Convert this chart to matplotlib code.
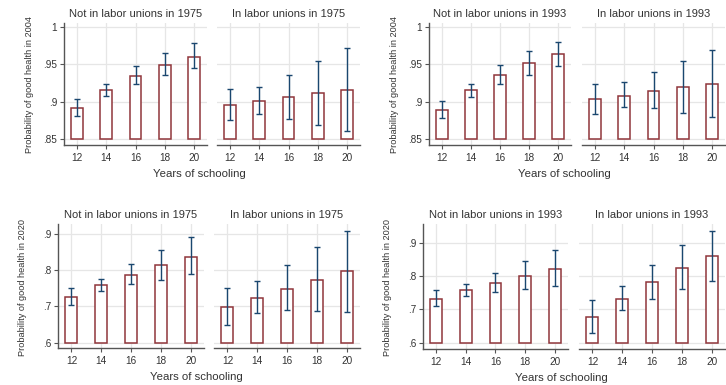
import matplotlib
matplotlib.use("Agg")
import matplotlib.pyplot as plt

# --- Data ---
years = [12, 14, 16, 18, 20]

# Outcome: good health in 2004, grouped by union status in 1975
est_04_75_non = [0.891, 0.915, 0.934, 0.949, 0.960]
lo_04_75_non = [0.881, 0.908, 0.923, 0.935, 0.945]
hi_04_75_non = [0.903, 0.924, 0.947, 0.965, 0.978]
est_04_75_uni = [0.895, 0.901, 0.906, 0.911, 0.916]
lo_04_75_uni = [0.876, 0.883, 0.877, 0.869, 0.861]
hi_04_75_uni = [0.917, 0.920, 0.936, 0.954, 0.972]

# Outcome: good health in 2004, grouped by union status in 1993
est_04_93_non = [0.889, 0.915, 0.935, 0.951, 0.963]
lo_04_93_non = [0.878, 0.906, 0.923, 0.936, 0.947]
hi_04_93_non = [0.901, 0.924, 0.949, 0.967, 0.980]
est_04_93_uni = [0.903, 0.908, 0.914, 0.919, 0.924]
lo_04_93_uni = [0.883, 0.893, 0.891, 0.885, 0.879]
hi_04_93_uni = [0.924, 0.926, 0.939, 0.954, 0.969]

# Outcome: good health in 2020, grouped by union status in 1975
est_20_75_non = [0.725, 0.758, 0.787, 0.814, 0.838]
lo_20_75_non = [0.704, 0.742, 0.761, 0.774, 0.789]
hi_20_75_non = [0.752, 0.777, 0.817, 0.856, 0.891]
est_20_75_uni = [0.698, 0.724, 0.749, 0.774, 0.797]
lo_20_75_uni = [0.648, 0.683, 0.689, 0.687, 0.684]
hi_20_75_uni = [0.750, 0.769, 0.815, 0.865, 0.910]

# Outcome: good health in 2020, grouped by union status in 1993
est_20_93_non = [0.731, 0.757, 0.781, 0.802, 0.823]
lo_20_93_non = [0.709, 0.740, 0.752, 0.760, 0.769]
hi_20_93_non = [0.757, 0.777, 0.811, 0.847, 0.880]
est_20_93_uni = [0.677, 0.732, 0.783, 0.825, 0.861]
lo_20_93_uni = [0.628, 0.697, 0.732, 0.760, 0.787]
hi_20_93_uni = [0.728, 0.772, 0.835, 0.893, 0.937]

# --- Style ---
BAR_COLOR = '#90353b'
CI_COLOR = '#1a476f'
TEXT_COLOR = '#333333'
AXIS_COLOR = '#555555'
GRID_COLOR = '#e6e6e6'

plt.rcParams['font.family'] = ['Liberation Sans', 'DejaVu Sans']

W, H = 726, 385
fig = plt.figure(figsize=(W / 100, H / 100), dpi=100)


def px_axes(x0, x1, ytop, ybot):
    return fig.add_axes([x0 / W, 1 - ybot / H, (x1 - x0) / W, (ybot - ytop) / H])


def draw_panel(ax, est, lo, hi, base, ylim, yticks, ylabels, title, first):
    ax.bar(years, [v - base for v in est], bottom=base, width=0.8,
           facecolor='white', edgecolor=BAR_COLOR, linewidth=1.1, zorder=2)
    yerr = [[e - l for e, l in zip(est, lo)], [h - e for e, h in zip(est, hi)]]
    ax.errorbar(years, est, yerr=yerr, fmt='none', ecolor=CI_COLOR,
                elinewidth=1.0, capsize=2.3, capthick=1.0, zorder=3)
    ax.set_xlim(11.1, 20.9)
    ax.set_ylim(*ylim)
    ax.set_xticks(years)
    ax.set_yticks(yticks)
    ax.set_yticklabels(ylabels)
    ax.grid(True, color=GRID_COLOR, linewidth=0.9, zorder=0)
    ax.set_axisbelow(True)
    for side in ['top', 'right']:
        ax.spines[side].set_visible(False)
    ax.spines['bottom'].set_color(AXIS_COLOR)
    ax.spines['bottom'].set_linewidth(1.0)
    ax.tick_params(axis='x', length=3, color=AXIS_COLOR, labelsize=7.2,
                   labelcolor=TEXT_COLOR, pad=3)
    if first:
        ax.spines['left'].set_color(AXIS_COLOR)
        ax.spines['left'].set_linewidth(1.0)
        ax.tick_params(axis='y', length=3, color=AXIS_COLOR, labelsize=7.2,
                       labelcolor=TEXT_COLOR, pad=2)
    else:
        ax.spines['left'].set_visible(False)
        ax.tick_params(axis='y', left=False, labelleft=False)
    ax.set_title(title, fontsize=8, color=TEXT_COLOR, pad=4)


top_ticks = [0.85, 0.9, 0.95, 1.0]
top_labels = ['.85', '.9', '.95', '1']
bot_ticks = [0.6, 0.7, 0.8, 0.9]
bot_labels = ['.6', '.7', '.8', '.9']

blocks = [
    # (left panel x, right panel x, y range, ylim, base, ticks, labels, data, year, outcome)
    ((64, 207), (217, 360), (23, 145), (0.842, 1.005), 0.85, top_ticks, top_labels,
     (est_04_75_non, lo_04_75_non, hi_04_75_non),
     (est_04_75_uni, lo_04_75_uni, hi_04_75_uni), '1975', '2004'),
    ((429, 571), (582, 725), (23, 145), (0.842, 1.005), 0.85, top_ticks, top_labels,
     (est_04_93_non, lo_04_93_non, hi_04_93_non),
     (est_04_93_uni, lo_04_93_uni, hi_04_93_uni), '1993', '2004'),
    ((58, 204), (214, 360), (224, 348), (0.585, 0.928), 0.6, bot_ticks, bot_labels,
     (est_20_75_non, lo_20_75_non, hi_20_75_non),
     (est_20_75_uni, lo_20_75_uni, hi_20_75_uni), '1975', '2020'),
    ((423, 568), (579, 725), (224, 349), (0.581, 0.957), 0.6, bot_ticks, bot_labels,
     (est_20_93_non, lo_20_93_non, hi_20_93_non),
     (est_20_93_uni, lo_20_93_uni, hi_20_93_uni), '1993', '2020'),
]

for (lx, rx, yr, ylim, base, ticks, labels, non, uni, year, outcome) in blocks:
    ax_l = px_axes(lx[0], lx[1], yr[0], yr[1])
    ax_r = px_axes(rx[0], rx[1], yr[0], yr[1])
    draw_panel(ax_l, *non, base, ylim, ticks, labels,
               f'Not in labor unions in {year}', True)
    draw_panel(ax_r, *uni, base, ylim, ticks, labels,
               f'In labor unions in {year}', False)

    # shared axis titles for each block
    xc = (lx[0] + rx[1]) / 2 - 13
    fig.text(xc / W, 1 - (yr[1] + 29) / H, 'Years of schooling',
             ha='center', va='center', fontsize=8.2, color=TEXT_COLOR)
    fig.text((lx[0] - 35) / W, 1 - ((yr[0] + yr[1]) / 2 + 1) / H,
             f'Probability of good health in {outcome}', rotation=90,
             ha='center', va='center', fontsize=6.6, color=TEXT_COLOR)

fig.savefig('out.png', dpi=100)
